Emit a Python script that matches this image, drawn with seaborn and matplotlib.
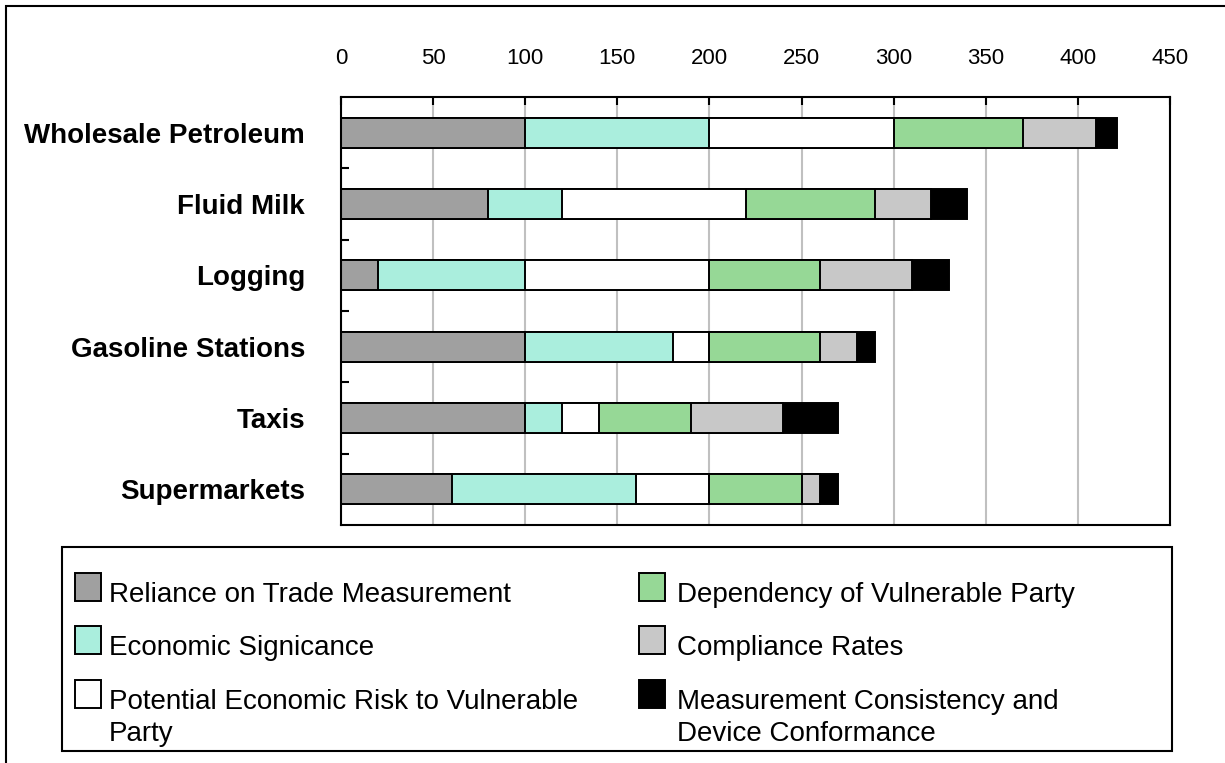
import seaborn as sns
import matplotlib.pyplot as plt
import numpy as np
from matplotlib.patches import Rectangle
from matplotlib.ticker import FixedLocator

industries = ['Wholesale Petroleum', 'Fluid Milk', 'Logging', 'Gasoline Stations', 'Taxis', 'Supermarkets']

reliance = [100, 80, 20, 100, 100, 60]
economic = [100, 40, 80, 80, 20, 100]
risk = [100, 100, 100, 20, 20, 40]
dependency = [70, 70, 60, 60, 50, 50]
compliance = [40, 30, 50, 20, 50, 10]
consistency = [11, 20, 20, 10, 30, 10]

series_names = ['Reliance on Trade Measurement', 'Economic Signicance',
                'Potential Economic Risk to Vulnerable\nParty',
                'Dependency of Vulnerable Party', 'Compliance Rates',
                'Measurement Consistency and\nDevice Conformance']
colors = ['#A0A0A0', '#AAEEDD', '#FFFFFF', '#96D896', '#C8C8C8', '#000000']
x_ticks = [0, 50, 100, 150, 200, 250, 300, 350, 400, 450]

sns.set_style('white')
plt.rcParams['font.family'] = ['Liberation Sans', 'DejaVu Sans']
plt.rcParams.update({'text.color': 'black', 'xtick.color': 'black',
                     'ytick.color': 'black', 'axes.labelcolor': 'black'})

W, H = 1225, 763
fig = plt.figure(figsize=(W / 100, H / 100), dpi=100)
ax = fig.add_axes([341 / W, 1 - 525 / H, (1170 - 341) / W, (525 - 97) / H])

# stacked bars: draw cumulative totals from the longest down, each covering the previous
cum = np.cumsum(np.array([reliance, economic, risk, dependency, compliance, consistency]), axis=0)
for vals, color in reversed(list(zip(cum, colors))):
    sns.barplot(x=vals, y=industries, color=color, edgecolor='black', linewidth=1.4,
                width=0.42, orient='h', saturation=1, errorbar=None, ax=ax)

ax.set_xlim(0, 450)
ax.set_ylim(5.5, -0.5)
ax.set_xlabel('')
ax.set_ylabel('')
ax.xaxis.tick_top()
ax.set_xticks(x_ticks)
ax.tick_params(axis='x', which='major', direction='in', length=6, width=1.5, color='black',
               labelcolor='black', pad=20, labelsize=16, labeltop=True, labelbottom=False,
               top=True, bottom=False)
ax.tick_params(axis='y', which='major', length=0, pad=26, labelsize=20, labelcolor='black')
ax.yaxis.set_minor_locator(FixedLocator([0.5, 1.5, 2.5, 3.5, 4.5]))
ax.tick_params(axis='y', which='minor', direction='in', length=6, width=1.5, color='black', left=True)
for lab in ax.get_yticklabels():
    lab.set_fontweight('bold')

ax.grid(axis='x', color='#C0C0C0', linewidth=1.5)
ax.grid(axis='y', visible=False)
ax.set_axisbelow(True)
for s in ax.spines.values():
    s.set_visible(True)
    s.set_color('black')
    s.set_linewidth(1.5)

# outer frame (only top and left edges fall inside the image)
fig.add_artist(Rectangle((6 / W, -0.5), 1.5, 1.5 - 6 / H, fill=False, edgecolor='black',
                         linewidth=1.5, transform=fig.transFigure))

# legend box
fig.add_artist(Rectangle((62 / W, 1 - 751 / H), (1172 - 62) / W, (751 - 547) / H, fill=False,
                         edgecolor='black', linewidth=1.5, transform=fig.transFigure))
for i, (name, color) in enumerate(zip(series_names, colors)):
    col, row = divmod(i, 3)
    sx = [75, 639][col]
    tx = [109, 677][col]
    base = [602, 655, 709][row]
    fig.add_artist(Rectangle((sx / W, 1 - (base - 1) / H), 26 / W, 28 / H, facecolor=color,
                             edgecolor='black', linewidth=1.4, transform=fig.transFigure))
    fig.text(tx / W, 1 - (base - 20) / H, name, fontsize=20, color='black',
             ha='left', va='top', linespacing=1.3)

fig.savefig('out.png', dpi=100)
